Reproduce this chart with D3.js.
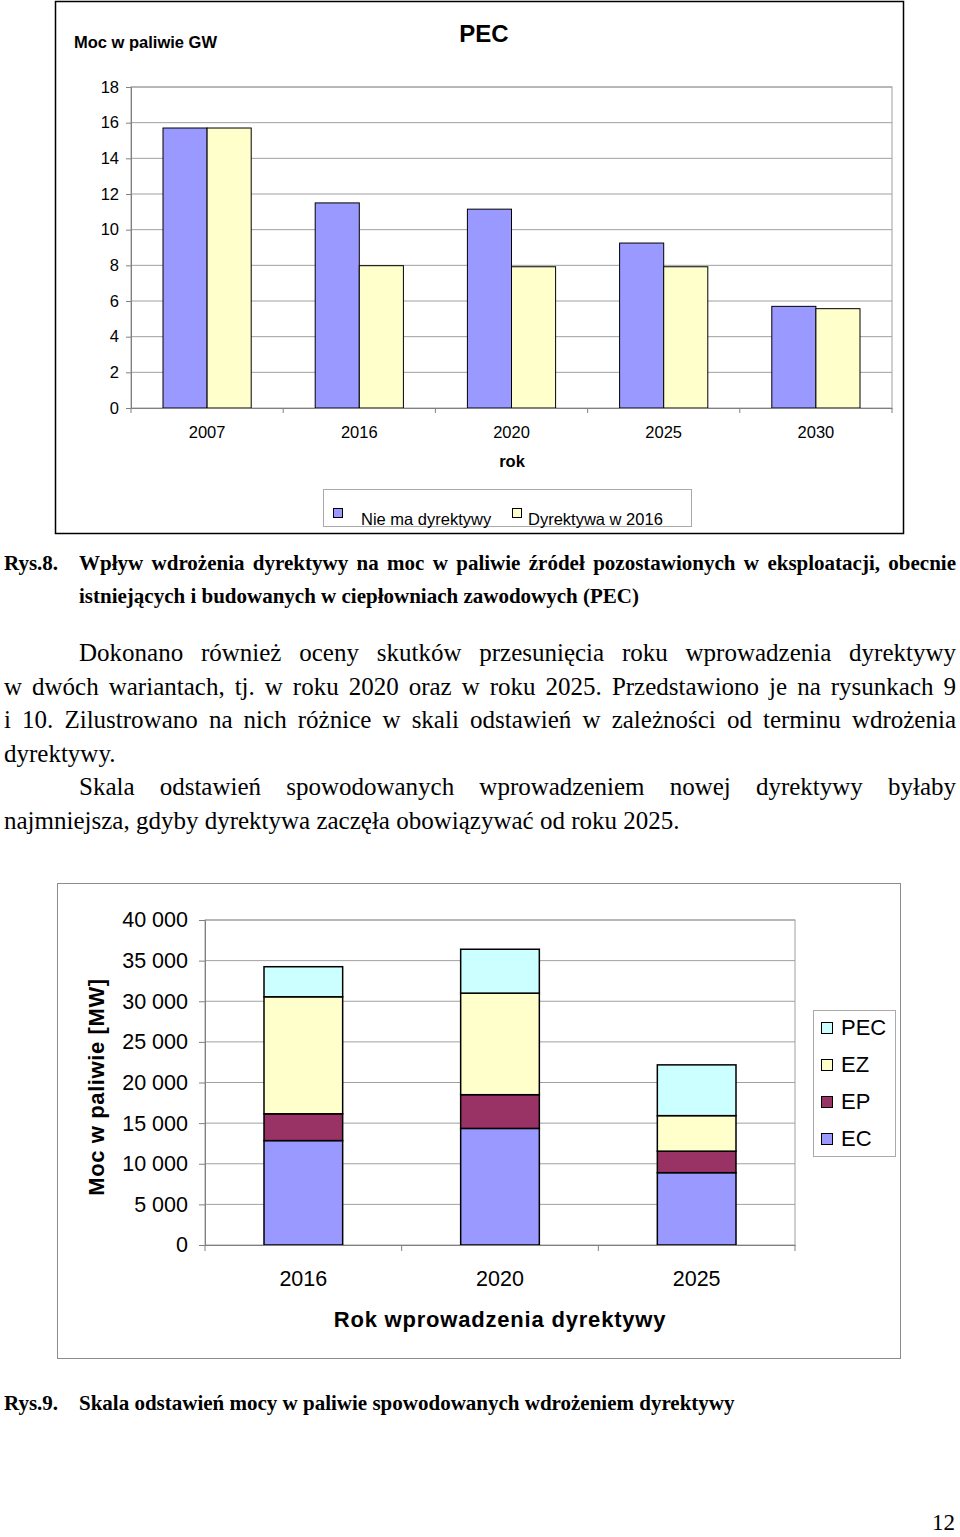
<!DOCTYPE html>
<html>
<head>
<meta charset="utf-8">
<script src="https://cdn.jsdelivr.net/npm/d3@7"></script>
<style>
  body { margin: 0; background: #fff; }
  svg { display: block; }
</style>
</head>
<body>
<div id="page"></div>
<script>
// ---- data: chart 1 (PEC, GW) ----
var years = ["2007", "2016", "2020", "2025", "2030"];
var seriesTop = ["Nie ma dyrektywy", "Dyrektywa w 2016"];
var noDirective = [15.7, 11.5, 11.15, 9.25, 5.7];
var directive2016 = [15.7, 7.98, 7.92, 7.92, 5.57];
var ticksTop = [0, 2, 4, 6, 8, 10, 12, 14, 16, 18];

// ---- data: chart 2 (MW) ----
var introYears = ["2016", "2020", "2025"];
var keys = ["EC", "EP", "EZ", "PEC"];
var EC = [12850, 14350, 8900];
var EP = [3300, 4150, 2650];
var EZ = [14400, 12500, 4370];
var PEC = [3700, 5400, 6250];
var ticksBottom = [0, 5000, 10000, 15000, 20000, 25000, 30000, 35000, 40000];

var SANS = "'Liberation Sans', Arial, sans-serif";
var SERIF = "'Liberation Serif', 'Times New Roman', serif";
var GRID = "#a0a0a0";

var svg = d3.select("#page").append("svg")
  .attr("width", 960)
  .attr("height", 1537);

//------------------------------------------------ chart 1 ------------------------------------------------
svg.append("rect")
  .attr("x", 55.5).attr("y", 1.5).attr("width", 848).attr("height", 532)
  .attr("fill", "#fff").attr("stroke", "#000").attr("stroke-width", 1.5);

var c1 = {left: 131, right: 892, top: 87, bottom: 408};
var x1 = d3.scaleBand().domain(years).range([c1.left, c1.right]);
var x1s = d3.scaleBand().domain(seriesTop).range([32, x1.bandwidth() - 32]);
var y1 = d3.scaleLinear().domain([0, 18]).range([c1.bottom, c1.top]);
var colTop = d3.scaleOrdinal().domain(seriesTop).range(["#9999ff", "#ffffcc"]);

var g1 = svg.append("g");

// grid
g1.selectAll("line.grid")
  .data(ticksTop.slice(1))
  .enter().append("line")
  .attr("x1", c1.left).attr("x2", c1.right)
  .attr("y1", function(d) { return y1(d); })
  .attr("y2", function(d) { return y1(d); })
  .attr("stroke", GRID);
g1.append("rect")
  .attr("x", c1.left).attr("y", c1.top)
  .attr("width", c1.right - c1.left).attr("height", c1.bottom - c1.top)
  .attr("fill", "none").attr("stroke", GRID);

// bars
var topRows = years.map(function(y, i) {
  return {year: y, values: [noDirective[i], directive2016[i]]};
});
g1.selectAll("g.grp")
  .data(topRows)
  .enter().append("g")
  .attr("transform", function(d) { return "translate(" + x1(d.year) + ",0)"; })
  .selectAll("rect")
  .data(function(d) { return d.values.map(function(v, j) { return {s: seriesTop[j], v: v}; }); })
  .enter().append("rect")
  .attr("x", function(d) { return x1s(d.s); })
  .attr("width", x1s.bandwidth())
  .attr("y", function(d) { return y1(d.v); })
  .attr("height", function(d) { return y1(0) - y1(d.v); })
  .attr("fill", function(d) { return colTop(d.s); })
  .attr("stroke", "#000").attr("stroke-width", 1);

// axes
var ay1 = g1.append("g")
  .attr("transform", "translate(" + c1.left + ",0)")
  .call(d3.axisLeft(y1).tickValues(ticksTop).tickSize(5).tickPadding(7));
var ax1 = g1.append("g")
  .attr("transform", "translate(0," + c1.bottom + ")")
  .call(d3.axisBottom(x1).tickSize(0).tickPadding(18));
[ay1, ax1].forEach(function(a) {
  a.select(".domain").attr("stroke", "#808080");
  a.selectAll(".tick line").attr("stroke", "#808080");
  a.selectAll("text").attr("font-family", SANS).attr("font-size", 16.5).attr("fill", "#000");
});
g1.selectAll("line.bt")
  .data(d3.range(years.length + 1))
  .enter().append("line")
  .attr("x1", function(i) { return c1.left + i * x1.step(); })
  .attr("x2", function(i) { return c1.left + i * x1.step(); })
  .attr("y1", c1.bottom).attr("y2", c1.bottom + 5)
  .attr("stroke", "#808080");

// titles
g1.append("text").attr("x", 484).attr("y", 42).attr("text-anchor", "middle")
  .attr("font-family", SANS).attr("font-size", 24).attr("font-weight", "bold").text("PEC");
g1.append("text").attr("x", 74).attr("y", 48)
  .attr("font-family", SANS).attr("font-size", 16.5).attr("font-weight", "bold").text("Moc w paliwie GW");
g1.append("text").attr("x", 512).attr("y", 467).attr("text-anchor", "middle")
  .attr("font-family", SANS).attr("font-size", 16.5).attr("font-weight", "bold").text("rok");

// legend
g1.append("rect").attr("x", 323.5).attr("y", 489.5).attr("width", 368).attr("height", 37)
  .attr("fill", "#fff").attr("stroke", "#aaa");
var legTopX = [333, 512], legTopTx = [361, 528];
seriesTop.forEach(function(s, i) {
  g1.append("rect").attr("x", legTopX[i] + 0.5).attr("y", 508.5).attr("width", 9).attr("height", 9)
    .attr("fill", colTop(s)).attr("stroke", "#000");
  g1.append("text").attr("x", legTopTx[i]).attr("y", 525)
    .attr("font-family", SANS).attr("font-size", 16.5).text(s);
});

//------------------------------------------------ texts ------------------------------------------------
function line(txt, x, y, x2, size, weight) {
  var t = svg.append("text").attr("x", x).attr("y", y)
    .attr("font-family", SERIF).attr("font-size", size)
    .attr("font-weight", weight || "normal").text(txt);
  if (x2) {
    var len = t.node().getComputedTextLength();
    var n = txt.split(" ").length - 1;
    if (n > 0) t.attr("word-spacing", (x2 - x - len) / n);
  }
  return t;
}

line("Rys.8.", 4, 570, null, 21, "bold");
line("Wpływ wdrożenia dyrektywy na moc w paliwie źródeł pozostawionych w eksploatacji, obecnie", 79, 570, 956, 21, "bold");
line("istniejących i budowanych w ciepłowniach zawodowych (PEC)", 79, 603, null, 21, "bold");

var para = [
  ["Dokonano również oceny skutków przesunięcia roku wprowadzenia dyrektywy", 79, true],
  ["w dwóch wariantach, tj. w roku 2020 oraz w roku 2025. Przedstawiono je na rysunkach 9", 4, true],
  ["i 10. Zilustrowano na nich różnice w skali odstawień w zależności od terminu wdrożenia", 4, true],
  ["dyrektywy.", 4, false],
  ["Skala odstawień spowodowanych wprowadzeniem nowej dyrektywy byłaby", 79, true],
  ["najmniejsza, gdyby dyrektywa zaczęła obowiązywać od roku 2025.", 4, false]
];
para.forEach(function(p, i) {
  line(p[0], p[1], 661 + i * 33.6, p[2] ? 956 : null, 25);
});

line("Rys.9.", 4, 1410, null, 21, "bold");
line("Skala odstawień mocy w paliwie spowodowanych wdrożeniem dyrektywy", 79, 1410, null, 21, "bold");
line("12", 932, 1530, null, 23);

//------------------------------------------------ chart 2 ------------------------------------------------
svg.append("rect")
  .attr("x", 57.5).attr("y", 883.5).attr("width", 843).attr("height", 475)
  .attr("fill", "#fff").attr("stroke", "#8c8c8c").attr("stroke-width", 1);

var c2 = {left: 205, right: 795, top: 920, bottom: 1245};
var x2 = d3.scaleBand().domain(introYears).range([c2.left, c2.right])
  .paddingInner(0.6).paddingOuter(0.3);
var y2 = d3.scaleLinear().domain([0, 40000]).range([c2.bottom, c2.top]);
var col2 = d3.scaleOrdinal().domain(keys).range(["#9999ff", "#993366", "#ffffcc", "#ccffff"]);
var fmt = d3.formatLocale({decimal: ",", thousands: " ", grouping: [3], currency: ["", ""]}).format(",d");

var g2 = svg.append("g");
g2.selectAll("line.grid")
  .data(ticksBottom.slice(1))
  .enter().append("line")
  .attr("x1", c2.left).attr("x2", c2.right)
  .attr("y1", function(d) { return y2(d); })
  .attr("y2", function(d) { return y2(d); })
  .attr("stroke", GRID);
g2.append("rect")
  .attr("x", c2.left).attr("y", c2.top)
  .attr("width", c2.right - c2.left).attr("height", c2.bottom - c2.top)
  .attr("fill", "none").attr("stroke", GRID);

var rows = introYears.map(function(y, i) {
  return {year: y, EC: EC[i], EP: EP[i], EZ: EZ[i], PEC: PEC[i]};
});
var stacked = d3.stack().keys(keys)(rows);
g2.selectAll("g.layer")
  .data(stacked)
  .enter().append("g")
  .attr("fill", function(d) { return col2(d.key); })
  .selectAll("rect")
  .data(function(d) { return d; })
  .enter().append("rect")
  .attr("x", function(d) { return x2(d.data.year); })
  .attr("width", x2.bandwidth())
  .attr("y", function(d) { return y2(d[1]); })
  .attr("height", function(d) { return y2(d[0]) - y2(d[1]); })
  .attr("stroke", "#000").attr("stroke-width", 1.5);

var ay2 = g2.append("g")
  .attr("transform", "translate(" + c2.left + ",0)")
  .call(d3.axisLeft(y2).tickValues(ticksBottom).tickFormat(fmt).tickSize(6).tickPadding(11));
var ax2 = g2.append("g")
  .attr("transform", "translate(0," + c2.bottom + ")")
  .call(d3.axisBottom(x2).tickSize(0).tickPadding(26));
[ay2, ax2].forEach(function(a) {
  a.select(".domain").attr("stroke", "#808080");
  a.selectAll(".tick line").attr("stroke", "#808080");
  a.selectAll("text").attr("font-family", SANS).attr("font-size", 21.5).attr("fill", "#000");
});
var step2 = (c2.right - c2.left) / introYears.length;
g2.selectAll("line.bt")
  .data(d3.range(introYears.length + 1))
  .enter().append("line")
  .attr("x1", function(i) { return c2.left + i * step2; })
  .attr("x2", function(i) { return c2.left + i * step2; })
  .attr("y1", c2.bottom).attr("y2", c2.bottom + 6)
  .attr("stroke", "#808080");

g2.append("text")
  .attr("transform", "translate(104,1087) rotate(-90)")
  .attr("text-anchor", "middle")
  .attr("font-family", SANS).attr("font-size", 22).attr("font-weight", "bold")
  .attr("letter-spacing", 0.6)
  .text("Moc w paliwie [MW]");
g2.append("text")
  .attr("x", 500).attr("y", 1327).attr("text-anchor", "middle")
  .attr("font-family", SANS).attr("font-size", 22).attr("font-weight", "bold")
  .attr("letter-spacing", 0.8)
  .text("Rok wprowadzenia dyrektywy");

// legend
g2.append("rect").attr("x", 813.5).attr("y", 1010.5).attr("width", 82).attr("height", 146)
  .attr("fill", "#fff").attr("stroke", "#aaa");
var legKeys = keys.slice().reverse();
g2.selectAll("g.leg")
  .data(legKeys)
  .enter().append("g")
  .attr("transform", function(d, i) { return "translate(0," + (i * 37) + ")"; })
  .each(function(d) {
    var g = d3.select(this);
    g.append("rect").attr("x", 821.5).attr("y", 1022.5).attr("width", 11).attr("height", 11)
      .attr("fill", col2(d)).attr("stroke", "#000");
    g.append("text").attr("x", 841).attr("y", 1035)
      .attr("font-family", SANS).attr("font-size", 22).text(d);
  });
</script>
</body>
</html>
